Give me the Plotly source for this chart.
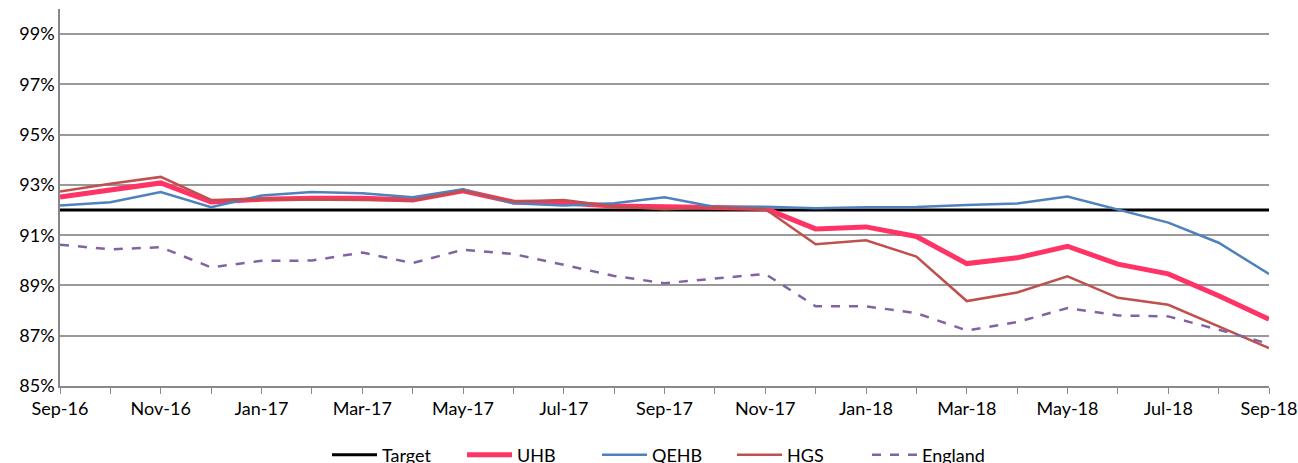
import plotly.graph_objects as go

months = ["Sep-16", "Oct-16", "Nov-16", "Dec-16", "Jan-17", "Feb-17", "Mar-17",
          "Apr-17", "May-17", "Jun-17", "Jul-17", "Aug-17", "Sep-17", "Oct-17",
          "Nov-17", "Dec-17", "Jan-18", "Feb-18", "Mar-18", "Apr-18", "May-18",
          "Jun-18", "Jul-18", "Aug-18", "Sep-18"]

target = [92.0] * 25
uhb = [92.52, 92.8, 93.08, 92.32, 92.43, 92.47, 92.47, 92.4, 92.77, 92.32,
       92.28, 92.16, 92.15, 92.1, 92.06, 91.25, 91.33, 90.95, 89.87, 90.1,
       90.56, 89.85, 89.46, 88.59, 87.66]
qehb = [92.18, 92.31, 92.72, 92.11, 92.58, 92.72, 92.67, 92.51, 92.83, 92.27,
        92.18, 92.27, 92.51, 92.12, 92.13, 92.07, 92.11, 92.12, 92.2, 92.26,
        92.54, 92.02, 91.5, 90.7, 89.46]
hgs = [92.74, 93.05, 93.32, 92.4, 92.43, 92.4, 92.4, 92.38, 92.77, 92.34,
       92.4, 92.14, 92.03, 92.1, 92.04, 90.64, 90.8, 90.15, 88.38, 88.72,
       89.36, 88.51, 88.23, 87.37, 86.51]
england = [90.62, 90.44, 90.52, 89.72, 89.98, 89.99, 90.31, 89.89, 90.42, 90.25,
           89.82, 89.38, 89.09, 89.29, 89.46, 88.17, 88.17, 87.9, 87.21, 87.54,
           88.1, 87.81, 87.77, 87.24, 86.68]

y_ticks = [85, 87, 89, 91, 93, 95, 97, 99]

x = list(range(len(months)))

fig = go.Figure()

# Линии: цель, затем серии
fig.add_trace(go.Scatter(x=x, y=target, name="Target", mode="lines",
                         line=dict(color="#000000", width=3)))
fig.add_trace(go.Scatter(x=x, y=uhb, name="UHB", mode="lines",
                         line=dict(color="#FF3366", width=5)))
fig.add_trace(go.Scatter(x=x, y=qehb, name="QEHB", mode="lines",
                         line=dict(color="#4F81BD", width=2.5)))
fig.add_trace(go.Scatter(x=x, y=hgs, name="HGS", mode="lines",
                         line=dict(color="#C0504D", width=2.5)))
fig.add_trace(go.Scatter(x=x, y=england, name="England", mode="lines",
                         line=dict(color="#8064A2", width=2.5, dash="dash")))

# Фигура выше окна: легенда обрезана снизу, как в оригинале
fig.update_layout(
    width=1298,
    height=495,
    plot_bgcolor="white",
    paper_bgcolor="white",
    margin=dict(l=60, r=29, t=9, b=109),
    font=dict(family="Lato", size=18, color="#000000"),
    xaxis=dict(
        range=[0, 24],
        tickmode="array",
        tickvals=x,
        ticktext=[m if i % 2 == 0 else "" for i, m in enumerate(months)],
        ticks="outside",
        ticklen=6,
        tickcolor="#888888",
        tickfont=dict(size=18),
        showline=True,
        linecolor="#888888",
        linewidth=1.5,
        showgrid=False,
        zeroline=False,
        automargin=False,
    ),
    yaxis=dict(
        range=[85, 100],
        tickmode="array",
        tickvals=y_ticks,
        ticktext=[f"{v}%" for v in y_ticks],
        tickfont=dict(size=18),
        showline=True,
        linecolor="#888888",
        linewidth=1.5,
        showgrid=True,
        gridcolor="#999999",
        gridwidth=1.5,
        zeroline=False,
        ticks="",
        automargin=False,
    ),
    showlegend=True,
    legend=dict(
        orientation="h",
        x=0.5,
        xanchor="center",
        y=-0.183,
        yanchor="middle",
        itemwidth=45,
        entrywidth=75,
        font=dict(size=18),
    ),
)

fig.write_html(
    "out.html",
    config={"displayModeBar": False},
    post_script="document.body.style.margin='0';document.body.style.overflow='hidden';",
)
